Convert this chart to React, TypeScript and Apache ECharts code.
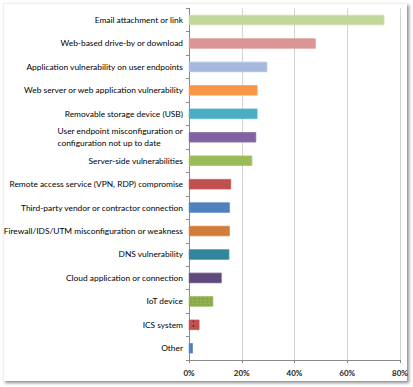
import React, { useEffect, useRef } from "react";
import * as echarts from "echarts";

const categories = [
  "Email attachment or link",
  "Web-based drive-by or download",
  "Application vulnerability on user endpoints",
  "Web server or web application vulnerability",
  "Removable storage device (USB)",
  "User endpoint misconfiguration or\nconfiguration not up to date",
  "Server-side vulnerabilities",
  "Remote access service (VPN, RDP) compromise",
  "Third-party vendor or contractor connection",
  "Firewall/IDS/UTM misconfiguration or weakness",
  "DNS vulnerability",
  "Cloud application or connection",
  "IoT device",
  "ICS system",
  "Other",
];
const values = [74, 48, 29.6, 25.9, 25.9, 25.4, 23.9, 15.9, 15.4, 15.4, 15.2, 12.3, 9.1, 3.9, 1.4];
const colors = [
  "#c3d69b", "#d99694", "#a6b8db", "#f79646", "#4bacc6", "#8064a2", "#9bbb59",
  "#c0504d", "#4f81bd", "#d07c3a", "#31859c", "#604a7b", "#8aab4c", "#c0504d", "#4f81bd",
];
const decals: Record<number, any> = {
  12: { symbol: "rect", symbolSize: 0.5, color: "rgba(210,230,170,0.8)", dashArrayX: [2, 2], dashArrayY: [1, 2] },
  13: { symbol: "circle", symbolSize: 0.7, color: "rgba(30,5,5,0.9)", dashArrayX: [3, 3], dashArrayY: [2, 3] },
  14: { symbol: "circle", symbolSize: 0.7, color: "rgba(20,30,60,0.85)", dashArrayX: [3, 3], dashArrayY: [2, 3] },
};
const xTicks = [0, 20, 40, 60, 80];

export default function App() {
  const ref = useRef<HTMLDivElement>(null);
  useEffect(() => {
    const chart = echarts.init(ref.current!, null, { renderer: "svg" });
    chart.setOption({
      animation: false,
      aria: { enabled: false, decal: { show: true } },
      grid: {
        left: 189,
        top: 8.3,
        width: 211,
        height: 351.7,
        containLabel: false,
        outerBoundsMode: "none",
      },
      xAxis: {
        type: "value",
        min: xTicks[0],
        max: xTicks[xTicks.length - 1],
        interval: 20,
        axisLine: { show: true, lineStyle: { color: "#8a8a8a", width: 1 } },
        axisTick: { show: true, length: 3, lineStyle: { color: "#8a8a8a" } },
        splitLine: { show: true, lineStyle: { color: "#d4d4d4", width: 1 } },
        axisLabel: {
          formatter: "{value}%",
          fontFamily: "Lato",
          fontSize: 8,
          fontWeight: "bold",
          color: "#222",
          margin: 9,
        },
      },
      yAxis: {
        type: "category",
        inverse: true,
        data: categories,
        axisLine: { show: true, lineStyle: { color: "#8a8a8a", width: 1 } },
        axisTick: { show: true, length: 3, lineStyle: { color: "#8a8a8a" } },
        axisLabel: {
          fontFamily: "Lato",
          fontSize: 8.4,
          color: "#000",
          margin: 6,
          lineHeight: 12,
          formatter: (v: string) =>
            v.includes("\n")
              ? v.split("\n").map((l) => `{l|${l}}`).join("\n")
              : v,
          rich: { l: { align: "left", fontFamily: "Lato", fontSize: 8.4, color: "#000", lineHeight: 12 } },
        },
      },
      series: [
        {
          type: "bar",
          barWidth: 10,
          data: values.map((v, i) => ({
            value: v,
            itemStyle: {
              color: colors[i],
              borderColor: echarts.color.lift(colors[i], -0.05),
              borderWidth: 0.5,
              decal: decals[i] || { symbol: "none" },
            },
          })),
        },
      ],
    });
    return () => chart.dispose();
  }, []);
  return (
    <div style={{ position: "fixed", left: 0, top: 0, width: 413, height: 387, background: "#fff" }}>
      <div
        style={{
          position: "absolute",
          left: 3,
          top: 3,
          width: 403,
          height: 377,
          background: "#fff",
          borderLeft: "1px solid #eee",
          borderTop: "1px solid #eee",
          boxShadow: "2px 2px 3px rgba(0,0,0,0.45)",
        }}
      />
      <div ref={ref} style={{ position: "absolute", left: 0, top: 0, width: 413, height: 387 }} />
    </div>
  );
}
